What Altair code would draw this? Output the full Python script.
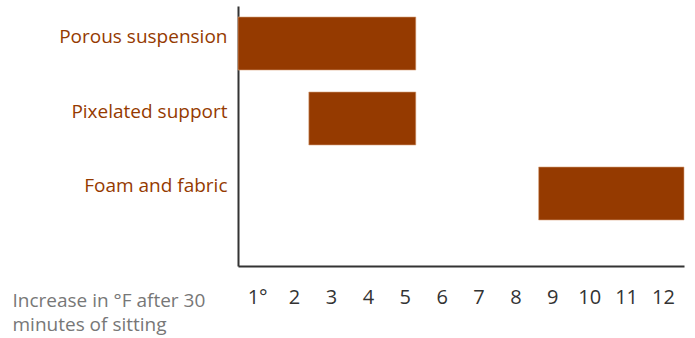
import altair as alt
import pandas as pd

categories = ["Porous suspension", "Pixelated support", "Foam and fabric"]
starts = [0.48, 2.40, 8.63]
ends = [5.30, 5.30, 12.57]
tick_values = list(range(1, 13))

df = pd.DataFrame({"cat": categories, "start": starts, "end": ends})

brown = "#953a00"

bars = alt.Chart(df).mark_bar(color=brown, stroke="#d9a27c", strokeWidth=0.6).encode(
    x=alt.X(
        "start:Q",
        scale=alt.Scale(domain=[0.48, 12.57], nice=False, zero=False),
        axis=alt.Axis(
            values=tick_values,
            labelExpr="datum.value == 1 ? '1°' : datum.label",
            ticks=False,
            grid=False,
            domainColor="#333333",
            domainWidth=2,
            labelColor="#333333",
            labelFontSize=20,
            labelFont="Open Sans",
            labelPadding=21,
            title=["Increase in °F after 30", "minutes of sitting"],
            titleFont="Open Sans",
            titleFontSize=19,
            titleFontWeight="normal",
            titleColor="#777777",
            titleAlign="left",
            titleAnchor="start",
            titleAngle=0,
            titleBaseline="alphabetic",
            titleX=-226,
            titleY=40,
            titleLineHeight=24,
        ),
    ),
    x2="end:Q",
    y=alt.Y(
        "cat:N",
        sort=categories,
        scale=alt.Scale(paddingInner=0.293, paddingOuter=0.38, align=0.193),
        axis=alt.Axis(
            title=None,
            ticks=False,
            grid=False,
            domainColor="#333333",
            domainWidth=2,
            labelColor=brown,
            labelFontSize=19,
            labelFont="Open Sans",
            labelPadding=11,
            labelOffset=-7,
            labelLimit=300,
        ),
    ),
)

chart = bars.properties(
    width=446,
    height=260,
    autosize=alt.AutoSizeParams(type="none"),
    padding={"left": 238, "top": 6, "right": 11, "bottom": 72},
).configure_view(stroke=None)

chart.save("out.html", embed_options={"renderer": "svg", "actions": False})
